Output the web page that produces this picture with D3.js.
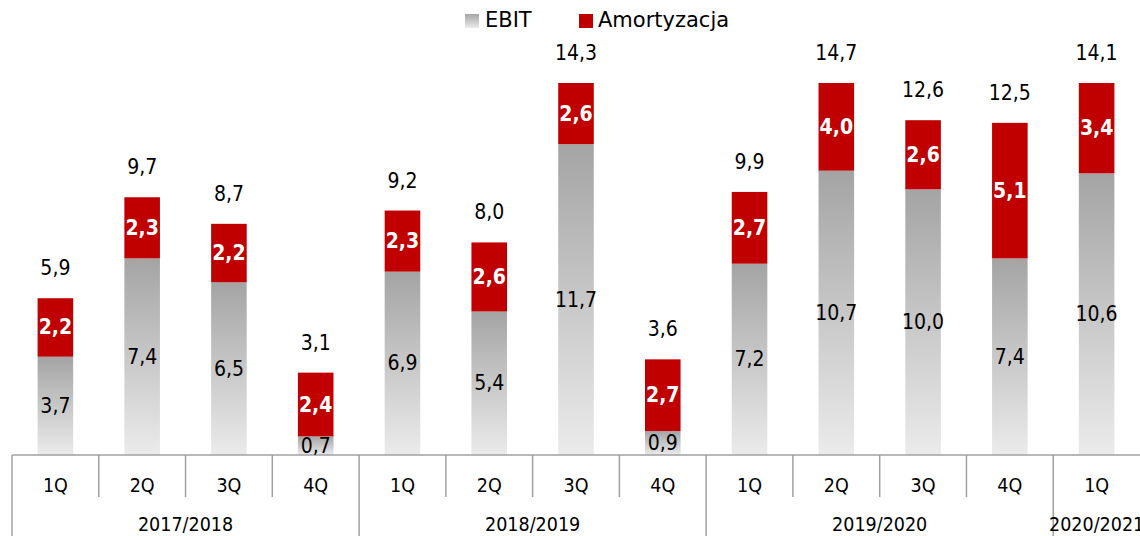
<!DOCTYPE html>
<html><head><meta charset="utf-8">
<script src="https://cdn.jsdelivr.net/npm/d3@7"></script>
<style>body{margin:0;background:#fff}svg{display:block}</style>
</head><body>
<svg id="c" width="1140" height="536"></svg>
<script>
const quarters = ["1Q","2Q","3Q","4Q","1Q","2Q","3Q","4Q","1Q","2Q","3Q","4Q","1Q"];
const years = ["2017/2018","2017/2018","2017/2018","2017/2018","2018/2019","2018/2019","2018/2019","2018/2019","2019/2020","2019/2020","2019/2020","2019/2020","2020/2021"];
const ebit = [3.7,7.4,6.5,0.7,6.9,5.4,11.7,0.9,7.2,10.7,10.0,7.4,10.6];
const amort = [2.2,2.3,2.2,2.4,2.3,2.6,2.6,2.7,2.7,4.0,2.6,5.1,3.4];
const totals = [5.9,9.7,8.7,3.1,9.2,8.0,14.3,3.6,9.9,14.7,12.6,12.5,14.1];
const yMax = 14;

const svg = d3.select("#c");
const FONT = "'DejaVu Sans Condensed', 'DejaVu Sans', Verdana, sans-serif";
const LFONT = "'DejaVu Sans', Verdana, sans-serif";
const fmt = v => d3.format(".1f")(v).replace(".", ",");
const idx = d3.range(quarters.length);

const x = d3.scaleBand().domain(idx).range([12, 1140]).paddingInner(0.59).paddingOuter(0.295);
const step = x.step();
const y = d3.scaleLinear().domain([0, yMax]).range([455, 83]).clamp(true);

const defs = svg.append("defs");
const g = defs.append("linearGradient").attr("id","gray").attr("x1",0).attr("y1",0).attr("x2",0).attr("y2",1);
g.append("stop").attr("offset","0%").attr("stop-color","#a4a4a4");
g.append("stop").attr("offset","100%").attr("stop-color","#ebebeb");

// EBIT bars
svg.append("g").selectAll("rect").data(idx).join("rect")
  .attr("x", i => x(i)).attr("width", x.bandwidth())
  .attr("y", i => y(ebit[i])).attr("height", i => y(0) - y(ebit[i]))
  .attr("fill","url(#gray)");
// Amort bars
svg.append("g").selectAll("rect").data(idx).join("rect")
  .attr("x", i => x(i)).attr("width", x.bandwidth())
  .attr("y", i => y(ebit[i] + amort[i])).attr("height", i => y(ebit[i]) - y(ebit[i] + amort[i]))
  .attr("fill","#c00000");

// Axis lines
const off = step * 0.295;
const ax = svg.append("g").attr("stroke","#a0a0a0").attr("stroke-width",1.5);
ax.append("line").attr("x1",12).attr("x2",1140).attr("y1",455).attr("y2",455);
const groupStarts = idx.filter(i => i === 0 || years[i] !== years[i-1]);
idx.forEach(i => {
  const bx = x(i) - off;
  const full = groupStarts.includes(i);
  ax.append("line").attr("x1",bx).attr("x2",bx).attr("y1",455).attr("y2", full ? 536 : 497);
});

// Quarter labels
svg.append("g").selectAll("text").data(idx).join("text")
  .attr("x", i => x(i) + x.bandwidth()/2).attr("y", 486)
  .attr("text-anchor","middle").attr("dominant-baseline","middle")
  .attr("font-family",FONT).attr("font-size",19.5).attr("fill","#000")
  .text(i => quarters[i]);
// Year labels
const yearGroups = d3.groups(idx, i => years[i]);
svg.append("g").selectAll("text").data(yearGroups).join("text")
  .attr("x", d => { const a = x(d[1][0]) - off, b = x(d[1][d[1].length-1]) - off + step; return (a+b)/2; })
  .attr("y", 525).attr("text-anchor","middle").attr("dominant-baseline","middle")
  .attr("font-family",FONT).attr("font-size",19.5).attr("fill","#000")
  .text(d => d[0]);

// EBIT value labels
svg.append("g").selectAll("text").data(idx).join("text")
  .attr("x", i => x(i) + x.bandwidth()/2).attr("y", i => (y(0) + y(ebit[i]))/2 + 1)
  .attr("text-anchor","middle").attr("dominant-baseline","middle")
  .attr("font-family",FONT).attr("font-size",21).attr("fill","#000")
  .text(i => fmt(ebit[i]));
// Amort labels
svg.append("g").selectAll("text").data(idx).join("text")
  .attr("x", i => x(i) + x.bandwidth()/2).attr("y", i => (y(ebit[i]) + y(ebit[i]+amort[i]))/2 + 1)
  .attr("text-anchor","middle").attr("dominant-baseline","middle")
  .attr("font-family",FONT).attr("font-size",21).attr("font-weight","bold").attr("fill","#fff")
  .text(i => fmt(amort[i]));
// Totals
svg.append("g").selectAll("text").data(idx).join("text")
  .attr("x", i => x(i) + x.bandwidth()/2).attr("y", i => y(totals[i]) - 29)
  .attr("text-anchor","middle").attr("dominant-baseline","middle")
  .attr("font-family",FONT).attr("font-size",21).attr("fill","#000")
  .text(i => fmt(totals[i]));

// Legend
const lg = svg.append("g");
lg.append("rect").attr("x",465).attr("y",14).attr("width",14).attr("height",14).attr("fill","url(#gray)");
lg.append("text").attr("x",485).attr("y",21).attr("dominant-baseline","middle")
  .attr("font-family",LFONT).attr("font-size",21).text("EBIT");
lg.append("rect").attr("x",579).attr("y",14).attr("width",14).attr("height",14).attr("fill","#c00000");
lg.append("text").attr("x",598).attr("y",21).attr("dominant-baseline","middle")
  .attr("font-family",LFONT).attr("font-size",21).text("Amortyzacja");
</script>
</body></html>
